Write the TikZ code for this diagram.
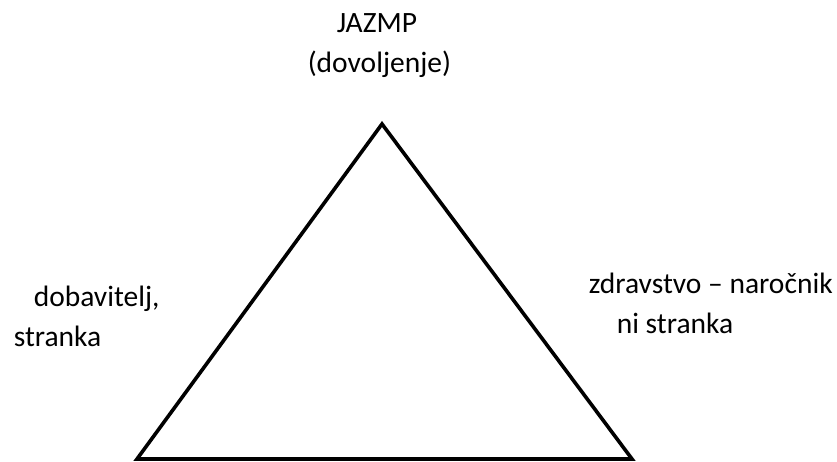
\documentclass[tikz,border=0pt]{standalone}
\usepackage{fontspec}
\setmainfont{Carlito}
\usepackage{tikz}
\usetikzlibrary{positioning}

\begin{document}
\begin{tikzpicture}[x=1pt,y=-1pt,line width=3.6pt,
    lbl/.style={anchor=base west,inner sep=0pt,font=\fontsize{29.5}{35}\selectfont}]
       \useasboundingbox (0,0) rectangle (837,462);
       \coordinate (top) at (382,124);
       \coordinate (left) at (137,459);
       \coordinate (right) at (632,459);
       \draw (top) -- (left) -- (right) -- cycle;
       \node [lbl] (jazmp) at (335,33) {JAZMP};
       \node [lbl] (dov) at (306,73) {(dovoljenje)};
       \node [lbl] (dob) at (32,306) {dobavitelj,};
       \node [lbl] (str) at (12,346) {stranka};
       \node [lbl] (zdr) at (587,293) {zdravstvo – naročnik};
       \node [lbl] (ni) at (615,333) {ni stranka};
    \end{tikzpicture}
\end{document}
